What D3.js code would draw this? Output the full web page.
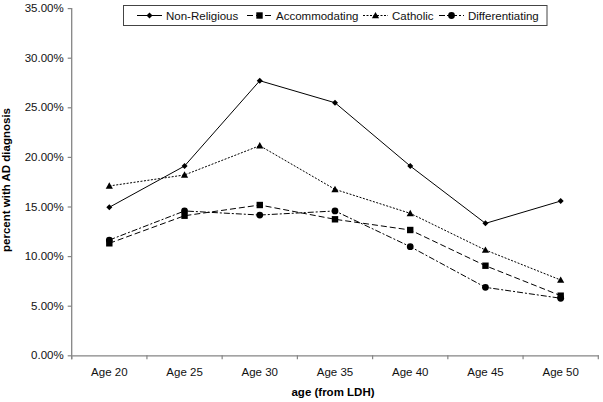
<!DOCTYPE html>
<html><head><meta charset="utf-8">
<script src="https://cdn.jsdelivr.net/npm/d3@7"></script>
<style>
html,body{margin:0;padding:0;background:#fff;}
svg{display:block;font-family:"Liberation Sans",Arial,sans-serif;}
</style></head>
<body><svg id="c" width="603" height="402"></svg>
<script>
const categories = ["Age 20","Age 25","Age 30","Age 35","Age 40","Age 45","Age 50"];
const nonReligious   = [0.1492,0.1908,0.2768,0.2546,0.1908,0.1330,0.1555];
const accommodating  = [0.1129,0.1407,0.1515,0.1371,0.1263,0.0903,0.0601];
const catholic       = [0.1707,0.1818,0.2113,0.1673,0.1431,0.1061,0.0759];
const differentiating= [0.1162,0.1455,0.1414,0.1455,0.1095,0.0685,0.0575];
const yTicks = [0,0.05,0.10,0.15,0.20,0.25,0.30,0.35];
const seriesNames = ["Non-Religious","Accommodating","Catholic","Differentiating"];

const series = [
  {name:seriesNames[0], values:nonReligious, dash:null, marker:"diamond"},
  {name:seriesNames[1], values:accommodating, dash:"6,3", marker:"square"},
  {name:seriesNames[2], values:catholic, dash:"2,1.5", marker:"triangle"},
  {name:seriesNames[3], values:differentiating, dash:"6,2,2,2", marker:"circle"}
];

const svg = d3.select("#c");
const x = d3.scaleBand().domain(categories).range([71.7,598.3]).padding(0);
const y = d3.scaleLinear().domain([0,0.35]).range([355.3,8.1]);
const axisColor = "#858585";

// Y axis
const ya = svg.append("g").attr("transform","translate(71.7,0)")
  .call(d3.axisLeft(y).tickValues(yTicks).tickFormat(d3.format(".2%")).tickSize(4).tickPadding(4));
ya.select(".domain").attr("stroke",axisColor).attr("stroke-width",1.3).attr("d","M0,"+y(0.35)+"V"+(y(0)+4));
ya.selectAll(".tick line").attr("stroke",axisColor).attr("stroke-width",1.2);
ya.selectAll(".tick text").attr("font-size","11.5px").attr("fill","#111").attr("font-family","Liberation Sans, Arial, sans-serif");

// X axis
const xa = svg.append("g").attr("transform","translate(0,"+y(0)+")")
  .call(d3.axisBottom(x).tickSize(0).tickPadding(13));
xa.select(".domain").attr("stroke",axisColor).attr("stroke-width",1.3);
xa.selectAll(".tick text").attr("font-size","11.5px").attr("fill","#111").attr("font-family","Liberation Sans, Arial, sans-serif");
const bounds = categories.map(c=>x(c)).concat([x.range()[1]]);
xa.selectAll("line.bt").data(bounds).join("line").attr("class","bt")
  .attr("x1",d=>d).attr("x2",d=>d).attr("y1",0).attr("y2",4)
  .attr("stroke",axisColor).attr("stroke-width",1.2);

// Axis titles
svg.append("text").attr("x",333).attr("y",396).attr("text-anchor","middle")
  .attr("font-size","11.5px").attr("font-weight","bold").text("age (from LDH)");
svg.append("text").attr("transform","translate(9.5,180) rotate(-90)").attr("text-anchor","middle")
  .attr("font-size","11.5px").attr("font-weight","bold").text("percent with AD diagnosis");

function drawMarker(g, type, cx, cy){
  if(type==="diamond"){
    g.append("path").attr("d",`M${cx},${cy-3}L${cx+3},${cy}L${cx},${cy+3}L${cx-3},${cy}Z`).attr("fill","#000");
  } else if(type==="square"){
    g.append("rect").attr("x",cx-3.2).attr("y",cy-3.2).attr("width",6.4).attr("height",6.4).attr("fill","#000");
  } else if(type==="triangle"){
    g.append("path").attr("d",`M${cx},${cy-3.6}L${cx+3.6},${cy+2.8}L${cx-3.6},${cy+2.8}Z`).attr("fill","#000");
  } else {
    g.append("circle").attr("cx",cx).attr("cy",cy).attr("r",3.4).attr("fill","#000");
  }
}

const cx = c => x(c)+x.bandwidth()/2;
const line = d3.line().x((d,i)=>cx(categories[i])).y(d=>y(d));
series.forEach(s=>{
  const g = svg.append("g");
  g.append("path").attr("d",line(s.values)).attr("fill","none").attr("stroke","#000")
    .attr("stroke-width",1).attr("stroke-dasharray",s.dash);
  s.values.forEach((v,i)=>drawMarker(g,s.marker,cx(categories[i]),y(v)));
});

// Legend
const lg = svg.append("g");
lg.append("rect").attr("x",123.5).attr("y",5.5).attr("width",423.5).attr("height",20)
  .attr("fill","#fff").attr("stroke","#444").attr("stroke-width",1);
const legX = [137,247,363,439];
series.forEach((s,i)=>{
  const lx = legX[i], ly = 15.5;
  lg.append("line").attr("x1",lx).attr("x2",lx+25).attr("y1",ly).attr("y2",ly)
    .attr("stroke","#000").attr("stroke-width",1).attr("stroke-dasharray",s.dash);
  drawMarker(lg,s.marker,lx+12.5,ly);
  lg.append("text").attr("x",lx+29).attr("y",ly+4).attr("font-size","11.5px").attr("fill","#111").text(s.name);
});
</script></body></html>
